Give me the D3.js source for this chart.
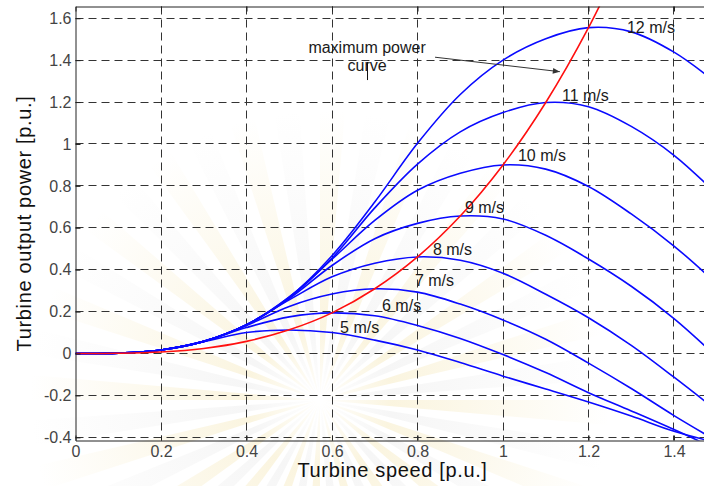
<!DOCTYPE html>
<html>
<head>
<meta charset="utf-8">
<script src="https://cdn.jsdelivr.net/npm/d3@7"></script>
<style>
  body { margin: 0; background: #fff; }
  svg { display: block; font-family: "Liberation Sans", Arial, sans-serif; }
</style>
</head>
<body>
<svg id="chart" width="704" height="486"></svg>
<script>
// turbine speed samples [p.u.]
const speed = [0, 0.1, 0.2, 0.3, 0.4, 0.5, 0.6, 0.7, 0.8, 0.9, 1.0, 1.1, 1.2, 1.3, 1.4, 1.5];

// turbine output power [p.u.] for each wind speed
const p5  = [0, 0.002, 0.017, 0.056, 0.100, 0.1125, 0.100, 0.064, 0.017, -0.043, -0.108, -0.169, -0.231, -0.298, -0.371, -0.425];
const p6  = [0, 0.002, 0.017, 0.058, 0.124, 0.175, 0.194, 0.180, 0.134, 0.072, -0.005, -0.091, -0.187, -0.274, -0.363, -0.457];
const p7  = [0, 0.002, 0.017, 0.058, 0.134, 0.225, 0.284, 0.309, 0.293, 0.236, 0.160, 0.068, -0.046, -0.167, -0.296, -0.417];
const p8  = [0, 0.002, 0.017, 0.058, 0.138, 0.256, 0.366, 0.431, 0.461, 0.445, 0.383, 0.283, 0.171, 0.039, -0.113, -0.272];
const p9  = [0, 0.002, 0.017, 0.058, 0.136, 0.262, 0.420, 0.548, 0.621, 0.656, 0.642, 0.564, 0.451, 0.321, 0.167, -0.016];
const p10 = [0, 0.002, 0.017, 0.058, 0.137, 0.270, 0.450, 0.635, 0.779, 0.860, 0.900, 0.880, 0.797, 0.666, 0.513, 0.333];
const p11 = [0, 0.002, 0.017, 0.058, 0.138, 0.266, 0.455, 0.695, 0.904, 1.058, 1.150, 1.198, 1.178, 1.084, 0.946, 0.760];
const p12 = [0, 0.002, 0.017, 0.058, 0.137, 0.269, 0.467, 0.723, 1.003, 1.236, 1.400, 1.502, 1.555, 1.535, 1.438, 1.290];

const windNames = ["5 m/s", "6 m/s", "7 m/s", "8 m/s", "9 m/s", "10 m/s", "11 m/s", "12 m/s"];
const windPower = [p5, p6, p7, p8, p9, p10, p11, p12];

// maximum power curve (red)
const mppSpeed = [0, 0.1, 0.2, 0.3, 0.4, 0.5, 0.6, 0.7, 0.8, 0.9, 1.0, 1.1, 1.2, 1.3];
const mppPower = [0, 0.001, 0.007, 0.024, 0.058, 0.113, 0.194, 0.309, 0.461, 0.656, 0.900, 1.198, 1.555, 1.977];

// ticks
const xTicks = [0, 0.2, 0.4, 0.6, 0.8, 1, 1.2, 1.4];
const xTickText = ["0", "0.2", "0.4", "0.6", "0.8", "1", "1.2", "1.4"];
const yTicks = [-0.4, -0.2, 0, 0.2, 0.4, 0.6, 0.8, 1, 1.2, 1.4, 1.6];
const yTickText = ["-0.4", "-0.2", "0", "0.2", "0.4", "0.6", "0.8", "1", "1.2", "1.4", "1.6"];

// where the curve labels sit (data units, left end / baseline)
const labelAt = [[0.619, 0.098], [0.717, 0.203], [0.794, 0.322], [0.836, 0.470],
                 [0.911, 0.671], [1.035, 0.919], [1.138, 1.205], [1.290, 1.530]];

const svg = d3.select("#chart");
const x = d3.scaleLinear().domain([0, 1.5]).range([75.5, 716.75]);
const y = d3.scaleLinear().domain([-0.415, 1.656]).range([440.5, 6.5]);
const plotLeft = x(0), plotTop = y(1.656), plotBottom = y(-0.415);
const crisp = v => Math.round(v - 0.5) + 0.5;

// faint watermark (sunburst) behind everything
const defs = svg.append("defs");
function radial(id, color, op) {
  const g = defs.append("radialGradient").attr("id", id)
    .attr("gradientUnits", "userSpaceOnUse").attr("cx", 0).attr("cy", 0).attr("r", 290);
  g.append("stop").attr("offset", "0%").attr("stop-color", color).attr("stop-opacity", 0);
  g.append("stop").attr("offset", "25%").attr("stop-color", color).attr("stop-opacity", op);
  g.append("stop").attr("offset", "100%").attr("stop-color", color).attr("stop-opacity", 0);
}
radial("wmY", "#f0dc96", 0.3);
radial("wmG", "#d6d6d6", 0.22);
const rayArc = d3.arc().innerRadius(0).outerRadius(290);
svg.append("g").attr("transform", "translate(320,400)")
  .selectAll("path").data(d3.range(40)).join("path")
  .attr("d", i => rayArc({startAngle: i * Math.PI / 20, endAngle: (i + 0.55) * Math.PI / 20}))
  .attr("fill", i => i % 2 ? "url(#wmG)" : "url(#wmY)");

defs.append("clipPath").attr("id", "plotClip")
  .append("rect").attr("x", plotLeft).attr("y", plotTop)
  .attr("width", 704 - plotLeft).attr("height", plotBottom - plotTop);
defs.append("marker").attr("id", "arrow")
  .attr("viewBox", "0 0 10 10").attr("refX", 10).attr("refY", 5)
  .attr("markerWidth", 8).attr("markerHeight", 7).attr("orient", "auto")
  .append("path").attr("d", "M0,1L10,5L0,9z").attr("fill", "#333");

// dashed grid
const grid = svg.append("g").attr("stroke", "#333").attr("stroke-width", 1).attr("stroke-dasharray", "8,5");
grid.selectAll(".gx").data(xTicks.filter(d => d > 0)).join("line")
  .attr("x1", d => crisp(x(d))).attr("x2", d => crisp(x(d)))
  .attr("y1", plotTop).attr("y2", plotBottom);
grid.selectAll(".gy").data(yTicks).join("line")
  .attr("x1", plotLeft).attr("x2", 704)
  .attr("y1", d => crisp(y(d))).attr("y2", d => crisp(y(d)));

// curves
const plot = svg.append("g").attr("clip-path", "url(#plotClip)");
const windLine = d3.line().x((d, i) => x(speed[i])).y(d => y(d)).curve(d3.curveCatmullRom.alpha(0.5));
plot.selectAll(".wind").data(windPower).join("path")
  .attr("fill", "none").attr("stroke", "#0a0aff").attr("stroke-width", 1.6)
  .attr("d", windLine);
const mppLine = d3.line().x((d, i) => x(mppSpeed[i])).y(d => y(d)).curve(d3.curveCatmullRom.alpha(0.5));
plot.append("path").datum(mppPower)
  .attr("fill", "none").attr("stroke", "#ff1010").attr("stroke-width", 1.6)
  .attr("d", mppLine);

// axes (MATLAB style: ticks inside)
function styleAxis(g) {
  g.attr("font-size", 16).attr("font-family", "'Liberation Sans', Arial, sans-serif");
  g.selectAll(".domain").attr("stroke", "#222");
  g.selectAll(".tick line").attr("stroke", "#222");
  g.selectAll(".tick text").attr("fill", "#444");
}
svg.append("g").attr("transform", `translate(0,${plotBottom})`)
  .call(d3.axisBottom(x).tickValues(xTicks).tickFormat((d, i) => xTickText[i])
    .tickSizeInner(-5).tickSizeOuter(0).tickPadding(5.5))
  .call(styleAxis);
svg.append("g").attr("transform", `translate(0,${plotTop})`)
  .call(d3.axisTop(x).tickValues(xTicks).tickFormat("").tickSizeInner(-5).tickSizeOuter(0))
  .call(styleAxis);
svg.append("g").attr("transform", `translate(${plotLeft},0)`)
  .call(d3.axisLeft(y).tickValues(yTicks).tickFormat((d, i) => yTickText[i])
    .tickSizeInner(-5).tickSizeOuter(0).tickPadding(4))
  .call(styleAxis);

// axis titles
svg.append("text")
  .attr("x", 392.5).attr("y", 477)
  .attr("text-anchor", "middle").attr("font-size", 20).attr("letter-spacing", 0.65)
  .attr("fill", "#111").text("Turbine speed [p.u.]");
svg.append("text")
  .attr("transform", `translate(31,${(plotTop + plotBottom) / 2}) rotate(-90)`)
  .attr("text-anchor", "middle").attr("font-size", 20).attr("letter-spacing", 0.65)
  .attr("fill", "#111").text("Turbine output power [p.u.]");

// curve labels
svg.append("g").selectAll("text").data(windNames).join("text")
  .attr("x", (d, i) => x(labelAt[i][0])).attr("y", (d, i) => y(labelAt[i][1]))
  .attr("font-size", 16).attr("fill", "#1a1a1a").text(d => d);

// "maximum power curve" annotation with arrow
const note = svg.append("g").attr("font-size", 16).attr("fill", "#1a1a1a").attr("text-anchor", "middle");
note.append("text").attr("x", x(0.682)).attr("y", y(1.434)).text("maximum power");
note.append("text").attr("x", x(0.682)).attr("y", y(1.348)).text("curve");
svg.append("line")
  .attr("x1", x(0.841)).attr("y1", y(1.414)).attr("x2", x(1.133)).attr("y2", y(1.345))
  .attr("stroke", "#333").attr("stroke-width", 1).attr("marker-end", "url(#arrow)");
// stray text cursor visible in the source picture
svg.append("line")
  .attr("x1", crisp(x(0.682))).attr("x2", crisp(x(0.682)))
  .attr("y1", y(1.391)).attr("y2", y(1.305))
  .attr("stroke", "#111").attr("stroke-width", 1);
</script>
</body>
</html>
